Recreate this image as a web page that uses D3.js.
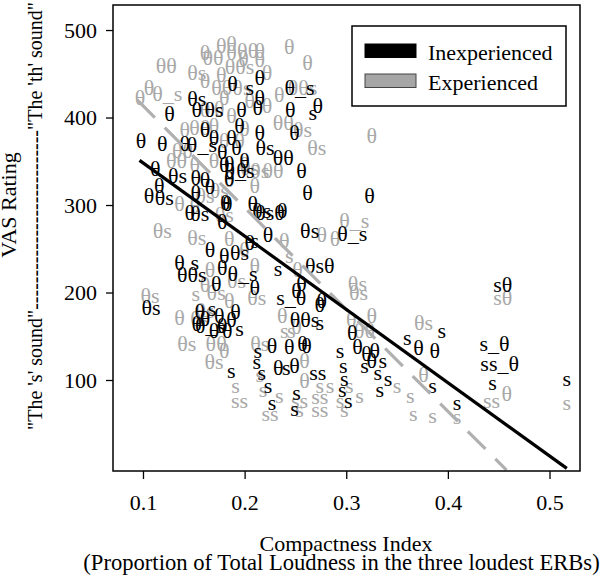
<!DOCTYPE html>
<html><head><meta charset="utf-8">
<script src="https://cdn.jsdelivr.net/npm/d3@7"></script>
<style>
html,body{margin:0;padding:0;background:#fff;}
text{font-family:"Liberation Serif","Times New Roman",serif;}
</style></head>
<body><svg id="c" width="600" height="581"></svg>
<script>
// ---- data ----
const xTicks = [0.1, 0.2, 0.3, 0.4, 0.5];
const yTicks = [100, 200, 300, 400, 500];
const seriesNames = ["Inexperienced", "Experienced"];

const inexpLabels = ["θ","θ","θ","θ_s","θ","θs","θ","θs","θ","s","θ","θ","θ","θ","θ","θs","θ","θ","θ","θθ","θ","θ","θ","θ_s","θ","θ","θ","s","θs","θ","θs","θ_s","θ","θ","θ","θs","θs","θ","θ","θ","θ","θs","θ","θ","θ","θ","s","θθs","θ","θ","θ","θsθ","θ","s","θs","θ","θ","θsθ","s","θ","s_θ","θ","θθs","s","θ","θ","θ","s","s","θ","s","θ","ss","s","s","s","s","s","θs","θ","θ","θ_s","θ","θ","θ_s","θ","θ","θ","s","θ","θ","θ","θ","s","θ","θ","θ","s","θ","s","θ","θ","s","s","s","s","s_θ","ss_θ","sθ","s","s","s","s","s","s","s","s","s","θ","s","θ","θ","θ","θ","θ","θ","θ",
  "θ","s","θ","θ","θ","θ_s","θ"];
const inexpX = [0.098,0.119,0.141,0.158,0.126,0.153,0.153,0.170,0.188,0.205,0.215,0.215,0.197,0.213,0.215,0.220,0.192,0.185,0.197,0.238,0.256,0.262,0.323,0.254,0.272,0.245,0.249,0.267,0.217,0.237,0.264,0.306,0.112,0.116,0.106,0.121,0.134,0.152,0.161,0.166,0.152,0.156,0.146,0.181,0.178,0.136,0.151,0.148,0.166,0.183,0.208,0.225,0.223,0.210,0.195,0.205,0.180,0.274,0.233,0.256,0.246,0.276,0.259,0.213,0.227,0.244,0.261,0.212,0.217,0.233,0.241,0.249,0.272,0.223,0.251,0.227,0.249,0.187,0.108,0.178,0.172,0.198,0.210,0.153,0.166,0.175,0.187,0.183,0.195,0.170,0.161,0.251,0.274,0.274,0.257,0.306,0.311,0.294,0.320,0.360,0.371,0.387,0.394,0.341,0.385,0.409,0.446,0.451,0.454,0.444,0.517,0.297,0.298,0.296,0.302,0.336,0.333,0.318,0.325,0.331,0.328,0.161,0.170,0.195,0.187,0.178,0.200,
  0.156,0.168,0.178,0.191,0.180,0.195,0.185];
const inexpY = [374,371,371,369,405,422,409,409,439,434,446,423,409,412,383,366,366,348,340,354,340,314,311,434,414,409,383,406,294,294,271,268,342,323,311,309,334,332,329,321,315,291,292,303,281,235,235,221,249,302,302,292,266,260,246,257,243,231,228,211,195,191,169,134,140,138,140,121,109,115,115,117,109,94,86,75,68,111,183,229,211,222,206,165,163,174,169,157,159,157,171,203,186,166,142,154,138,134,131,149,137,134,157,102,94,74,142,119,209,97,102,117,102,89,77,123,89,117,123,109,134,386,377,391,377,361,351,
  178,182,163,178,346,340,331];

const expLabels = ["θ","θ","θθ","θ","θ","θ","θ","θθ","θθs","θs","θθ","θ","θ","θ_s","θθθs","θθs","θ","θ","θθ","θs","θs","θ","θθ","θθ","θθ","θs","θθ","θs","θs","θ","θ","θs","θ_s","θs","θs","θs","sθ","θ","ss","s","s","s","s","θs","θ","θs","θs","θs","s","θs","θs","θs","θθ","s","θ","ss","ss","s","ss","ss","θ","θθ","θ","θ","s","s","s","s","s","s","s","θ","θ","θ","θ","θs","θ","θ","θ","s","θ","θ","θ","θ","θs","θ","θ","θ","θs","θ","s","θ","s",
  "θ","θ","θ","θ","θ","θ","θ","θ","θ","θ","θ","θ","θ","θ","θs","θ","θ","s","s","θ","s","s","ss","θ","θs","θ"];
const expX = [0.187,0.187,0.203,0.215,0.215,0.244,0.262,0.169,0.195,0.153,0.123,0.097,0.106,0.124,0.187,0.257,0.161,0.175,0.238,0.257,0.271,0.325,0.156,0.139,0.133,0.205,0.228,0.119,0.153,0.136,0.151,0.180,0.308,0.311,0.312,0.376,0.454,0.458,0.443,0.517,0.366,0.385,0.409,0.107,0.136,0.156,0.143,0.170,0.152,0.172,0.212,0.215,0.172,0.239,0.251,0.225,0.274,0.218,0.254,0.274,0.305,0.318,0.325,0.259,0.274,0.294,0.298,0.313,0.303,0.350,0.363,0.376,0.185,0.200,0.210,0.192,0.166,0.161,0.239,0.244,0.252,0.276,0.289,0.200,0.215,0.180,0.170,0.185,0.161,0.177,0.246,0.237,0.191,
  0.177,0.161,0.199,0.222,0.180,0.205,0.187,0.222,0.161,0.234,0.170,0.200,0.141,0.195,0.175,0.151,0.210,0.234,0.254,0.259,0.284,0.215,0.195,0.185,0.161,0.180];
const expY = [485,474,477,477,466,481,463,469,458,452,460,423,434,428,434,435,409,411,394,386,366,380,389,363,351,343,340,271,263,302,300,289,283,211,200,166,195,85,77,75,62,60,58,197,172,171,142,121,199,200,195,142,142,157,161,62,66,89,77,81,169,157,174,100,94,77,66,83,94,94,83,106,262,249,231,214,226,209,260,243,226,266,262,346,340,374,351,329,311,449,157,174,94,
  483,475,468,452,423,420,403,414,443,426,391,388,386,374,317,346,323,83,66,123,94,106,77,191,180,134];

// regression fits: [intercept, slope], drawn over [xStart, xEnd]
const fitInexp = [431.9, -837.3];
const fitInexpRange = [0.0966, 0.517];
const fitExp = [529.8, -1164];
const fitExpRange = [0.0943, 0.4577];

// ---- drawing ----
const svg = d3.select("#c");
svg.append("rect").attr("width",600).attr("height",581).attr("fill","#fff");
const L=113,R=580,T=5,B=471;
const x = d3.scaleLinear().domain([0.0705,0.530]).range([L,R]);
const y = d3.scaleLinear().domain([-4,528.6]).range([B,T]);
const GRAY_TXT = "#a8a8a8", GRAY_LINE="#b0b0b0";
const FS = 22;

// markers: experienced (gray) first, then inexperienced (black)
const expData = expLabels.map((l,i)=>({l, x:expX[i], y:expY[i]}));
const inexpData = inexpLabels.map((l,i)=>({l, x:inexpX[i], y:inexpY[i]}));
const mg = svg.append("g");
mg.selectAll("text.e").data(expData).join("text").attr("class","e")
  .attr("x",d=>x(d.x)).attr("y",d=>y(d.y)).attr("dy","0.35em")
  .attr("text-anchor","middle").attr("font-size",FS).attr("fill",GRAY_TXT).text(d=>d.l);
mg.selectAll("text.i").data(inexpData).join("text").attr("class","i")
  .attr("x",d=>x(d.x)).attr("y",d=>y(d.y)).attr("dy","0.35em")
  .attr("text-anchor","middle").attr("font-size",FS).attr("fill","#000").text(d=>d.l);

// fit lines
const line = d3.line().x(d=>x(d[0])).y(d=>y(d[1]));
function fitPts(f,r){return r.map(v=>[v, f[0]+f[1]*v]);}
svg.append("path").attr("d",line(fitPts(fitExp,fitExpRange))).attr("fill","none")
  .attr("stroke",GRAY_LINE).attr("stroke-width",3.2).attr("stroke-dasharray","25,14");
svg.append("path").attr("d",line(fitPts(fitInexp,fitInexpRange))).attr("fill","none")
  .attr("stroke","#000").attr("stroke-width",3.2);

// frame
svg.append("rect").attr("x",L).attr("y",T).attr("width",R-L).attr("height",B-T)
  .attr("fill","none").attr("stroke","#000").attr("stroke-width",1.5);

// axes
const xa = svg.append("g").attr("transform",`translate(0,${B})`)
  .call(d3.axisBottom(x).tickValues(xTicks).tickFormat(d3.format(".1f")).tickSize(8).tickPadding(15));
const ya = svg.append("g").attr("transform",`translate(${L},0)`)
  .call(d3.axisLeft(y).tickValues(yTicks).tickFormat(d3.format("d")).tickSize(7).tickPadding(9));
[xa,ya].forEach(a=>{
  a.select(".domain").remove();
  a.selectAll("line").attr("stroke","#000").attr("stroke-width",1.3);
  a.selectAll("text").attr("font-size",22).attr("fill","#000")
   .attr("font-family","'Liberation Serif','Times New Roman',serif");
});

// axis titles
svg.append("text").attr("x",346).attr("y",551).attr("text-anchor","middle")
  .attr("font-size",22).text("Compactness Index");
svg.append("text").attr("x",341.5).attr("y",570).attr("text-anchor","middle")
  .attr("font-size",22.6).text("(Proportion of Total Loudness in the three loudest ERBs)");
svg.append("text").attr("transform","translate(16,205) rotate(-90)").attr("text-anchor","middle")
  .attr("font-size",22).text("VAS Rating");
svg.append("text").attr("transform","translate(42,430) rotate(-90)").attr("text-anchor","start")
  .attr("font-size",20).text("\"The 's' sound\"---------------------------\"The 'th' sound\"");

// legend
const lg = svg.append("g");
lg.append("rect").attr("x",352).attr("y",26).attr("width",214).attr("height",80)
  .attr("fill","#fff").attr("stroke","#000").attr("stroke-width",1.5);
const sw = [{c:"#000",s:"#000",y:44},{c:"#a6a6a6",s:"#444",y:74}];
seriesNames.forEach((n,i)=>{
  lg.append("rect").attr("x",365).attr("y",sw[i].y).attr("width",51).attr("height",13.5)
    .attr("fill",sw[i].c).attr("stroke",sw[i].s).attr("stroke-width",1);
  lg.append("text").attr("x",428).attr("y",sw[i].y+15.5).attr("font-size",22).text(n);
});
</script></body></html>
